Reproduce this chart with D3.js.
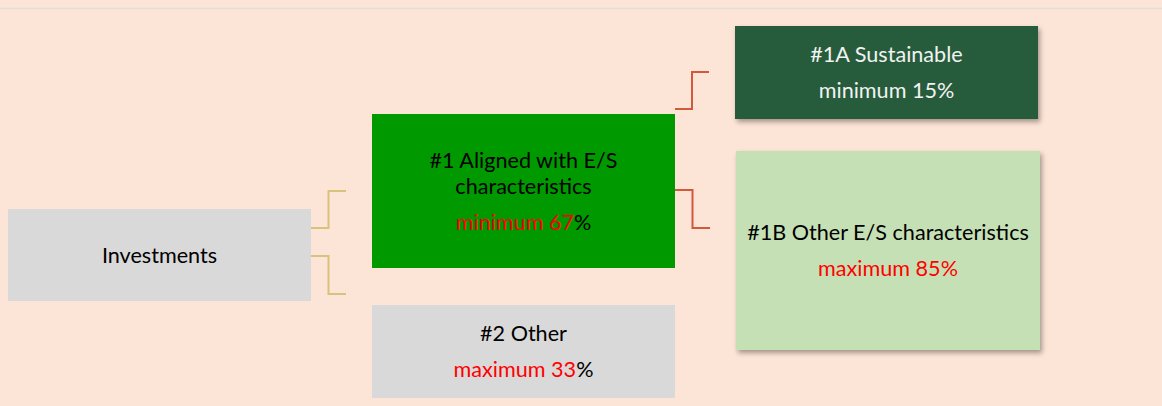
<!DOCTYPE html>
<html>
<head>
<meta charset="utf-8">
<script src="https://cdn.jsdelivr.net/npm/d3@7"></script>
<style>
  body { margin: 0; background: #FCE4D6; }
  svg { display: block; }
  text { font-family: Lato, "Open Sans", sans-serif; font-size: 21.6px; }
</style>
</head>
<body>
<svg id="tree"></svg>
<script>
// Node data
var nodeIds = ["inv", "n1", "n2", "n1a", "n1b"];
var nodeTitles = [
    ["Investments"],
    ["#1 Aligned with E/S", "characteristics"],
    ["#2 Other"],
    ["#1A Sustainable"],
    ["#1B Other E/S characteristics"]
];
var boundWords = [null, "minimum", "maximum", "minimum", "maximum"];
var boundValues = [null, 67, 33, 15, 85];
var links = [["inv", "n1"], ["inv", "n2"], ["n1", "n1a"], ["n1", "n1b"]];

// Layout (pixels) kept apart from data
var width = 1162, height = 406;
var boxes = {
    inv: { x0: 8,   x1: 311,  y0: 209, y1: 301, fill: "#D9D9D9", text: "#000", bound: "#FF0000", pct: "#000", shadow: false },
    n1:  { x0: 372, x1: 675,  y0: 114, y1: 268, fill: "#009900", text: "#000", bound: "#FF0000", pct: "#000", shadow: false },
    n2:  { x0: 372, x1: 675,  y0: 305, y1: 398, fill: "#D9D9D9", text: "#000", bound: "#FF0000", pct: "#000", shadow: false },
    n1a: { x0: 735, x1: 1038, y0: 26,  y1: 119, fill: "#255B3A", text: "#F2F2F2", bound: "#F2F2F2", pct: "#F2F2F2", shadow: true },
    n1b: { x0: 736, x1: 1040, y0: 151, y1: 350, fill: "#C5E0B4", text: "#000", bound: "#FF0000", pct: "#FF0000", shadow: true }
};
// connector anchor rows (start y, end y) per link
var linkRows = [[228, 191], [256, 294], [109, 72], [190, 228]];
var linkColors = ["#D4BE72", "#D4BE72", "#CC4A2C", "#CC4A2C"];

var svg = d3.select("#tree")
    .attr("width", width)
    .attr("height", height);

svg.append("rect")
    .attr("width", width)
    .attr("height", height)
    .attr("fill", "#FCE4D6");

svg.append("line")
    .attr("x1", 0).attr("x2", width)
    .attr("y1", 8.5).attr("y2", 8.5)
    .attr("stroke", "#E4DEDA")
    .attr("stroke-width", 1.5);

var defs = svg.append("defs");
defs.append("filter")
    .attr("id", "shadow")
    .attr("x", "-10%").attr("y", "-10%")
    .attr("width", "130%").attr("height", "130%")
    .append("feDropShadow")
    .attr("dx", 2).attr("dy", 3)
    .attr("stdDeviation", 2.5)
    .attr("flood-color", "#000")
    .attr("flood-opacity", 0.35);

var nodes = nodeIds.map(function(id, i) {
    return { id: id, title: nodeTitles[i], word: boundWords[i], value: boundValues[i], box: boxes[id] };
});
var byId = {};
nodes.forEach(function(n) { byId[n.id] = n; });

// Connectors (elbow lines)
svg.selectAll("path.link")
    .data(links)
    .enter()
    .append("path")
    .attr("class", "link")
    .attr("fill", "none")
    .attr("stroke", function(d, i) { return linkColors[i]; })
    .attr("stroke-width", 2)
    .attr("stroke-opacity", 0.9)
    .attr("d", function(d, i) {
        var s = byId[d[0]].box, t = byId[d[1]].box;
        var xs = s.x1, xe = t.x0 - 26;
        var xm = xs + (xe - xs) / 2;
        var p = d3.path();
        p.moveTo(xs, linkRows[i][0]);
        p.lineTo(xm, linkRows[i][0]);
        p.lineTo(xm, linkRows[i][1]);
        p.lineTo(xe, linkRows[i][1]);
        return p.toString();
    });

var g = svg.selectAll("g.node")
    .data(nodes)
    .enter()
    .append("g")
    .attr("class", "node");

g.append("rect")
    .attr("x", function(d) { return d.box.x0; })
    .attr("y", function(d) { return d.box.y0; })
    .attr("width", function(d) { return d.box.x1 - d.box.x0; })
    .attr("height", function(d) { return d.box.y1 - d.box.y0; })
    .attr("fill", function(d) { return d.box.fill; })
    .attr("filter", function(d) { return d.box.shadow ? "url(#shadow)" : null; });

var lineGap = 26, boundGap = 36;
g.each(function(d) {
    var sel = d3.select(this);
    var cx = (d.box.x0 + d.box.x1) / 2;
    var cy = (d.box.y0 + d.box.y1) / 2;
    var n = d.title.length;
    var span = (n - 1) * lineGap + (d.word ? boundGap : 0);
    var top = cy - span / 2;

    d.title.forEach(function(line, k) {
        sel.append("text")
            .attr("x", cx)
            .attr("y", top + k * lineGap)
            .attr("dy", "0.35em")
            .attr("text-anchor", "middle")
            .attr("fill", d.box.text)
            .text(line);
    });

    if (d.word) {
        var t = sel.append("text")
            .attr("x", cx)
            .attr("y", top + (n - 1) * lineGap + boundGap)
            .attr("dy", "0.35em")
            .attr("text-anchor", "middle");
        t.append("tspan")
            .attr("fill", d.box.bound)
            .text(d.word + " " + d.value);
        t.append("tspan")
            .attr("fill", d.box.pct)
            .text("%");
    }
});
</script>
</body>
</html>
